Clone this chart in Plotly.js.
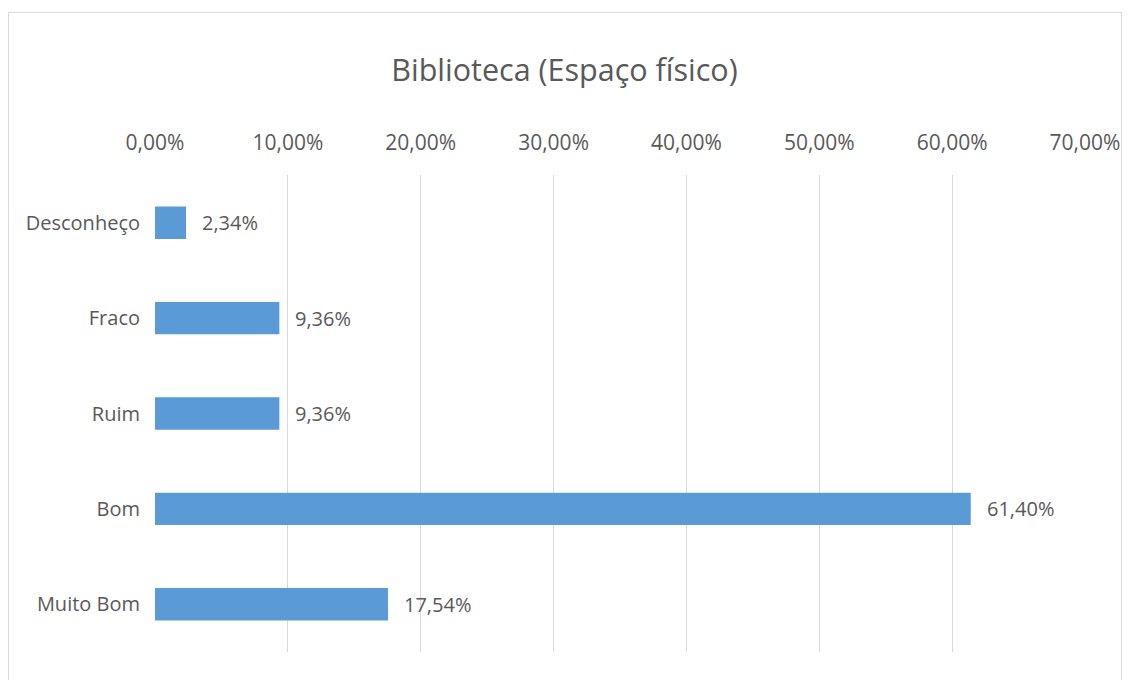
<!DOCTYPE html>
<html>
<head>
<meta charset="utf-8">
<script src="https://cdn.plot.ly/plotly-3.0.1.min.js"></script>
<style>
html,body{margin:0;padding:0;background:#fff;}
#wrap{position:relative;width:1129px;height:680px;overflow:hidden;}
#chart{width:1129px;height:680px;}
#frame{position:absolute;left:8px;top:12px;width:1112px;height:700px;border:1px solid #d9d9d9;pointer-events:none;}
</style>
</head>
<body>
<div id="wrap"><div id="chart"></div><div id="frame"></div></div>
<script>
const categories = ["Desconheço", "Fraco", "Ruim", "Bom", "Muito Bom"];
const values = [2.34, 9.36, 9.36, 61.40, 17.54];
const tickVals = [0, 10, 20, 30, 40, 50, 60, 70];
const tickLabels = ["0,00%", "10,00%", "20,00%", "30,00%", "40,00%", "50,00%", "60,00%", "70,00%"];
const titleText = "Biblioteca (Espaço físico)";

const FONT = "Open Sans, sans-serif";
const GRAY = "#595959";

const fmt = v => v.toFixed(2).replace(".", ",") + "%";

const trace = {
  type: "bar",
  orientation: "h",
  y: categories,
  x: values,
  marker: {color: "#5B9BD5"},
  width: 0.34,
  hoverinfo: "none"
};

const annotations = categories.map((c, i) => ({
  x: values[i], y: c, xref: "x", yref: "y",
  text: fmt(values[i]), showarrow: false,
  xanchor: "left", xshift: 14,
  font: {family: FONT, size: 20, color: GRAY}
}));

const layout = {
  width: 1129, height: 680,
  margin: {l: 155, r: 44, t: 175, b: 28},
  paper_bgcolor: "#fff", plot_bgcolor: "#fff",
  showlegend: false,
  title: {text: titleText, x: 0.5, xanchor: "center", y: 0.897, yanchor: "middle",
          font: {family: FONT, size: 30.5, color: GRAY}},
  xaxis: {
    side: "top", range: [0, 70], tickvals: tickVals, ticktext: tickLabels,
    showgrid: true, gridcolor: "#d9d9d9", gridwidth: 1,
    zeroline: false, showline: false, ticks: "",
    ticklabelstandoff: 20,
    tickfont: {family: FONT, size: 21, color: GRAY},
    fixedrange: true
  },
  yaxis: {
    type: "category", autorange: "reversed",
    showgrid: false, zeroline: false, showline: false, ticks: "",
    ticklabelstandoff: 14,
    tickfont: {family: FONT, size: 20, color: GRAY},
    fixedrange: true
  },
  annotations: annotations
};

Plotly.newPlot("chart", [trace], layout, {displayModeBar: false, staticPlot: true});
</script>
</body>
</html>
